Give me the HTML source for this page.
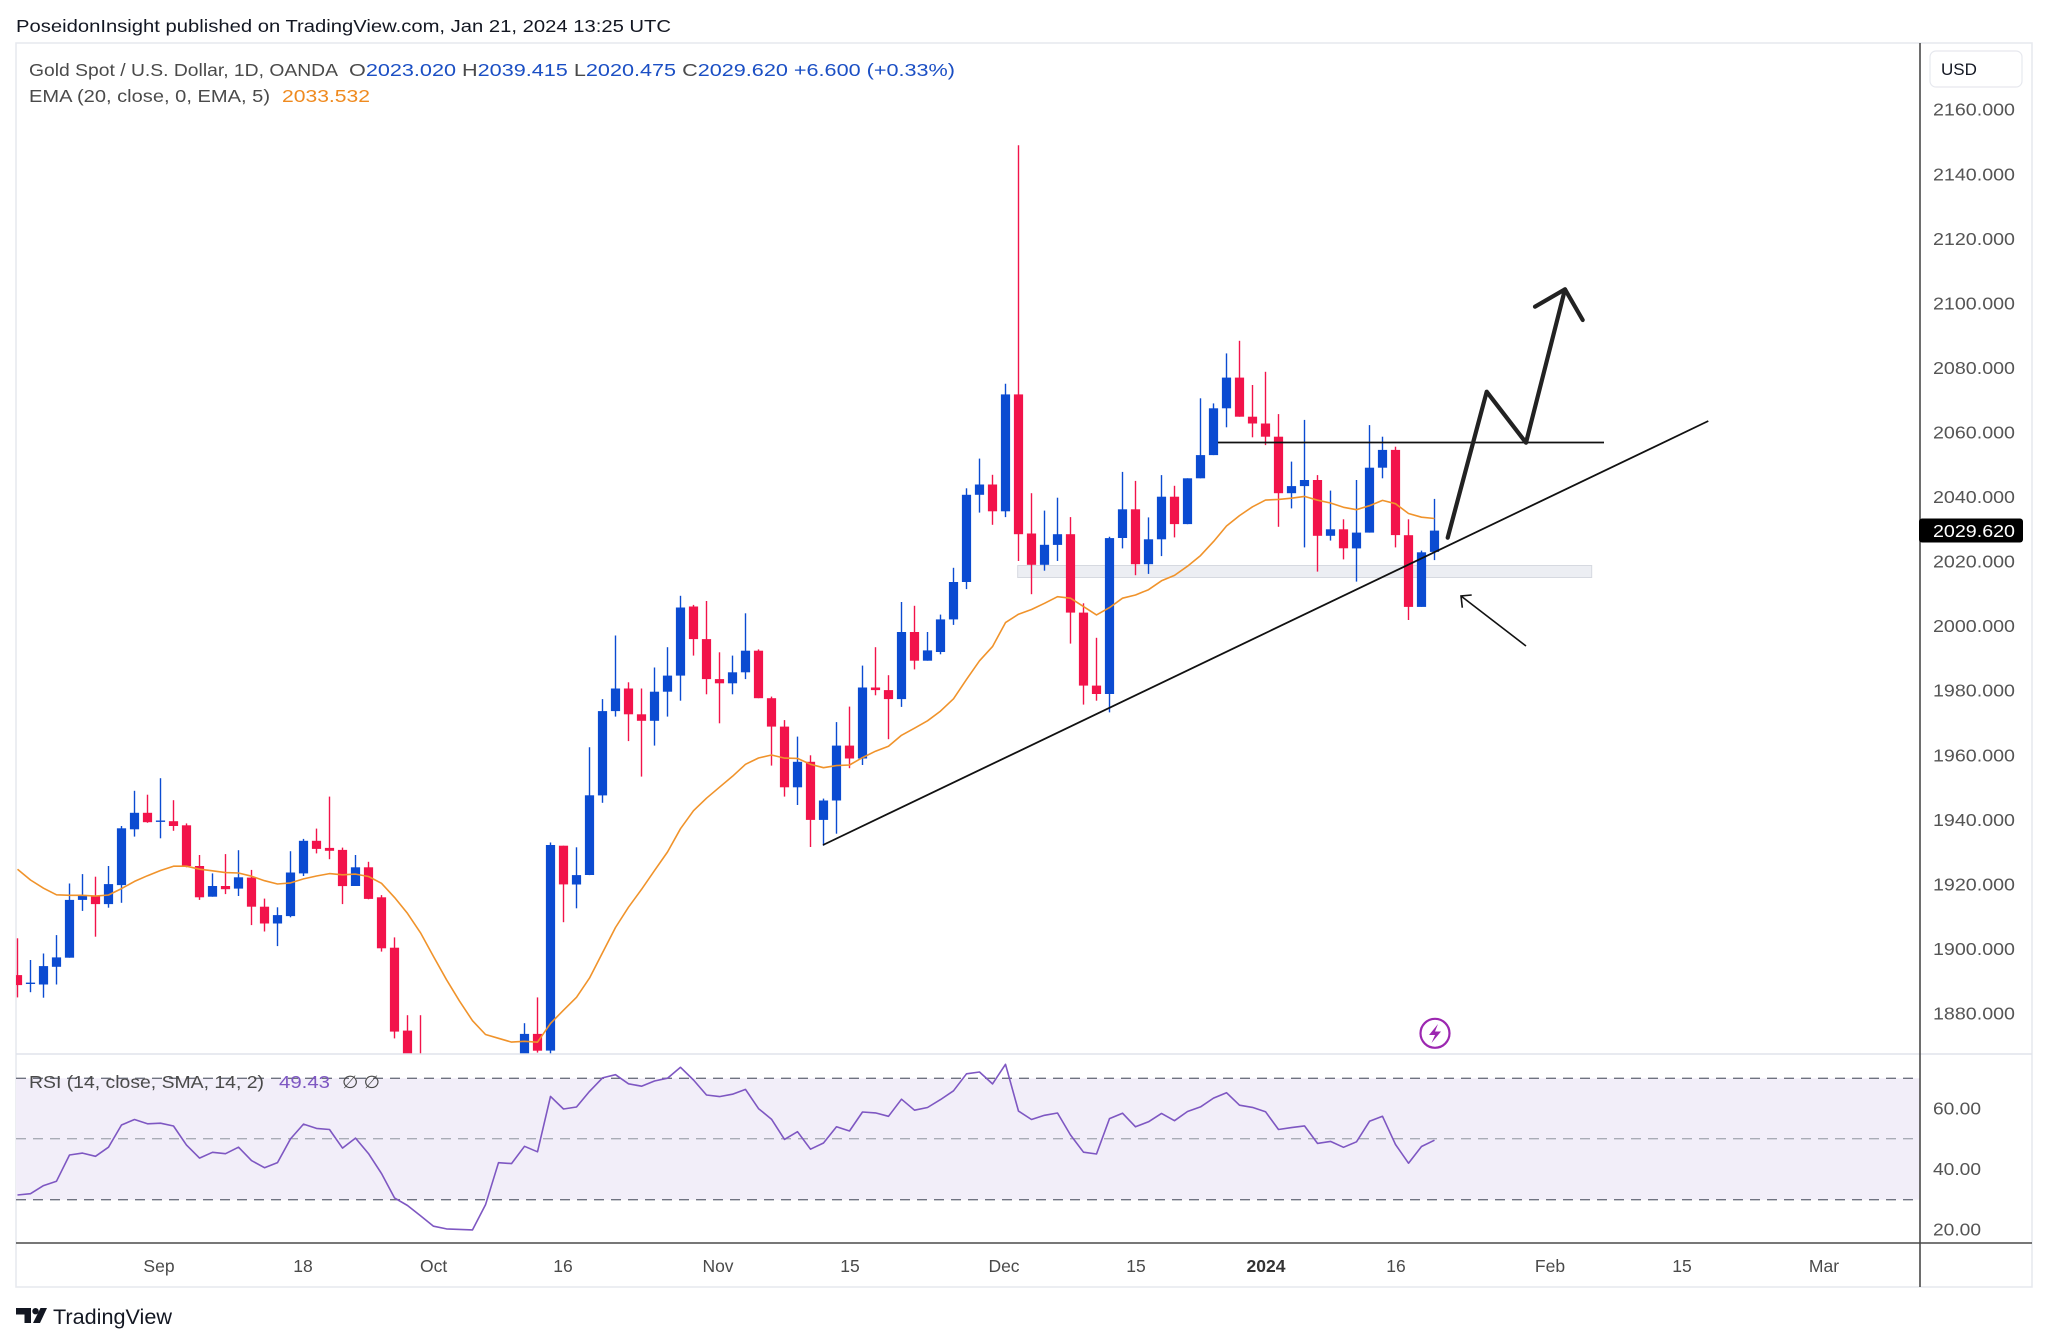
<!DOCTYPE html>
<html><head><meta charset="utf-8">
<style>
html,body{margin:0;padding:0;background:#fff;}
svg{display:block;}
text{font-family:"Liberation Sans",Arial,sans-serif;}
</style></head>
<body>
<svg id="s" xmlns="http://www.w3.org/2000/svg" width="2048" height="1344" viewBox="0 0 2048 1344">
<defs>
<clipPath id="cm"><rect x="16" y="43" width="1904" height="1011"/></clipPath>
<clipPath id="cr"><rect x="16" y="1054" width="1904" height="189"/></clipPath>
</defs>
<rect x="0" y="0" width="2048" height="1344" fill="#fff"/>
<text x="16" y="32" font-size="17.5" fill="#131722" textLength="655" lengthAdjust="spacingAndGlyphs">PoseidonInsight published on TradingView.com, Jan 21, 2024 13:25 UTC</text>
<rect x="16" y="43" width="2016" height="1244" fill="none" stroke="#e6e8ee" stroke-width="1.5"/>

<!-- RSI background -->
<rect x="16" y="1078.3" width="1904" height="121.4" fill="#f2eef9"/>
<g stroke-width="1.4" stroke-dasharray="10,7">
<line x1="16" x2="1920" y1="1078.3" y2="1078.3" stroke="#6f7280"/>
<line x1="16" x2="1920" y1="1138.7" y2="1138.7" stroke="#a9acb6"/>
<line x1="16" x2="1920" y1="1199.7" y2="1199.7" stroke="#6f7280"/>
</g>

<!-- main pane content -->
<g clip-path="url(#cm)">
<rect x="1017.7" y="565.5" width="574" height="12" fill="#eceef3" stroke="#d6d9e0" stroke-width="1"/>
<g id="candles"></g>
<polyline id="ema" fill="none" stroke="#f0932b" stroke-width="1.6" stroke-linejoin="round"/>
<line x1="823" y1="845" x2="1708.3" y2="421" stroke="#111" stroke-width="1.8"/>
<line x1="1218" y1="442.5" x2="1604" y2="442.5" stroke="#111" stroke-width="1.8"/>
<polyline points="1447.7,537.7 1486.7,391.7 1526,442.7 1565,289.3" fill="none" stroke="#222" stroke-width="4.2" stroke-linecap="round" stroke-linejoin="round"/>
<polyline points="1535,306.7 1565,289.3 1582.7,320" fill="none" stroke="#222" stroke-width="4.2" stroke-linecap="round" stroke-linejoin="round"/>
<line x1="1526" y1="646" x2="1461" y2="596" stroke="#111" stroke-width="1.6"/>
<polyline points="1471.7,595 1461,596 1462.3,607.7" fill="none" stroke="#111" stroke-width="1.6"/>
<circle cx="1435" cy="1033.3" r="14.5" fill="#fff" stroke="#9c27b0" stroke-width="2.2"/>
<path d="M1438 1024 L1429 1035 L1435 1035 L1431.5 1043 L1441 1031.5 L1435 1031.5 Z" fill="#9c27b0"/>
</g>

<!-- RSI line -->
<g clip-path="url(#cr)">
<polyline id="rsi" fill="none" stroke="#7e57c2" stroke-width="1.6" stroke-linejoin="round"/>
</g>

<!-- separators / axes -->
<line x1="16" x2="2032" y1="1054" y2="1054" stroke="#e0e3eb" stroke-width="1.5"/>
<line x1="16" x2="2032" y1="1243" y2="1243" stroke="#4a4a4a" stroke-width="1.6"/>
<line x1="1920" x2="1920" y1="43" y2="1287" stroke="#4a4a4a" stroke-width="1.6"/>

<!-- legend -->
<text x="29" y="76" font-size="17.5" fill="#4a4a4a" textLength="309" lengthAdjust="spacingAndGlyphs">Gold Spot / U.S. Dollar, 1D, OANDA</text>
<text x="349" y="76" font-size="17.5" textLength="606" lengthAdjust="spacingAndGlyphs"><tspan fill="#4a4a4a">O</tspan><tspan fill="#1b4fc4">2023.020</tspan><tspan fill="#4a4a4a">  H</tspan><tspan fill="#1b4fc4">2039.415</tspan><tspan fill="#4a4a4a">  L</tspan><tspan fill="#1b4fc4">2020.475</tspan><tspan fill="#4a4a4a">  C</tspan><tspan fill="#1b4fc4">2029.620  +6.600 (+0.33%)</tspan></text>
<text x="29" y="102" font-size="17.5" fill="#4a4a4a" textLength="241" lengthAdjust="spacingAndGlyphs">EMA (20, close, 0, EMA, 5)</text>
<text x="282" y="102" font-size="17.5" fill="#ef8a1f" textLength="88" lengthAdjust="spacingAndGlyphs">2033.532</text>

<text x="29" y="1088" font-size="17.5" fill="#4a4a4a" textLength="235" lengthAdjust="spacingAndGlyphs">RSI (14, close, SMA, 14, 2)</text>
<text x="279" y="1088" font-size="17.5" fill="#7e57c2" textLength="51" lengthAdjust="spacingAndGlyphs">49.43</text>
<text x="342" y="1088" font-size="17.5" fill="#4a4a4a" textLength="38" lengthAdjust="spacingAndGlyphs">∅ ∅</text>

<!-- USD box -->
<rect x="1930" y="51" width="92" height="36" rx="6" fill="#fff" stroke="#e6e8ee" stroke-width="1.2"/>
<text x="1941" y="75" font-size="17" fill="#131722">USD</text>

<!-- price axis labels -->
<g id="pax" font-size="17.5" fill="#555"></g>
<rect x="1919" y="518.5" width="104" height="24" rx="3" fill="#000"/>
<text x="1933" y="537" font-size="17.5" fill="#fff" textLength="82" lengthAdjust="spacingAndGlyphs">2029.620</text>
<g font-size="17.5" fill="#555">
<text x="1933" y="1114.5" textLength="48" lengthAdjust="spacingAndGlyphs">60.00</text>
<text x="1933" y="1175" textLength="48" lengthAdjust="spacingAndGlyphs">40.00</text>
<text x="1933" y="1235.3" textLength="48" lengthAdjust="spacingAndGlyphs">20.00</text>
</g>

<!-- time axis -->
<g font-size="17.5" fill="#4a4a4a" text-anchor="middle">
<text x="159" y="1272">Sep</text>
<text x="303" y="1272">18</text>
<text x="433.6" y="1272">Oct</text>
<text x="563" y="1272">16</text>
<text x="718" y="1272">Nov</text>
<text x="850" y="1272">15</text>
<text x="1004" y="1272">Dec</text>
<text x="1136" y="1272">15</text>
<text x="1266" y="1272" font-weight="bold" fill="#333">2024</text>
<text x="1396" y="1272">16</text>
<text x="1550" y="1272">Feb</text>
<text x="1682" y="1272">15</text>
<text x="1824" y="1272">Mar</text>
</g>

<!-- TradingView logo -->
<g fill="#131722">
<path d="M16 1308 H31 V1323 H24.5 V1314.5 H16 Z"/>
<circle cx="35.5" cy="1311.2" r="3.2"/>
<path d="M40.5 1308 H47 L40 1323 H33 Z"/>
</g>
<text x="53" y="1324" font-size="21.5" fill="#131722" textLength="119" lengthAdjust="spacingAndGlyphs">TradingView</text>
</svg>

<script>
(function(){
var D=[
[1891.9,1903.3,1885.0,1888.8],[1889.3,1896.6,1886.6,1889.6],[1889.0,1898.6,1884.9,1894.7],[1894.5,1904.3,1889.0,1897.4],
[1897.3,1920.3,1897.3,1915.2],[1915.2,1923.2,1911.8,1916.6],[1916.5,1922.4,1903.8,1913.9],[1913.9,1925.7,1912.8,1920.1],
[1919.8,1938.1,1914.3,1937.4],[1937.1,1949.0,1934.8,1942.2],[1942.2,1947.8,1939.1,1939.3],[1939.6,1952.9,1934.3,1939.8],
[1939.6,1946.1,1936.6,1938.1],[1938.3,1938.9,1925.3,1925.7],[1925.7,1929.1,1915.2,1916.0],[1916.2,1923.4,1916.2,1919.5],
[1919.5,1929.4,1917.0,1918.5],[1918.7,1930.6,1916.4,1922.2],[1922.1,1924.5,1907.4,1913.1],[1913.1,1915.6,1905.4,1907.9],
[1907.9,1912.9,1900.9,1910.5],[1910.2,1930.3,1909.8,1923.7],[1923.4,1934.1,1922.6,1933.5],[1933.5,1937.3,1929.6,1931.0],
[1931.3,1947.2,1927.8,1930.4],[1930.7,1931.4,1913.9,1919.5],[1919.5,1929.1,1919.5,1925.3],[1925.3,1927.0,1915.4,1915.5],
[1916.0,1916.7,1899.2,1900.2],[1900.4,1903.6,1872.3,1874.4],[1874.7,1879.5,1857,1864],[1864,1879.5,1846,1848],
[1848,1849,1827,1828],[1828,1835,1815,1822],[1822,1829,1816,1821],[1821,1830,1817,1820],
[1820,1834,1810,1833],[1833,1864,1830,1861],[1861,1865,1853,1860],[1860,1877.0,1858,1873.7],
[1873.7,1885.0,1867.9,1868.5],[1868.5,1933.0,1867.5,1932.2],[1932.0,1932.0,1908.3,1920.0],[1920.0,1931.5,1912.6,1922.9],
[1922.9,1962.5,1922.9,1947.6],[1947.6,1977.4,1945.3,1973.7],[1973.7,1997.1,1972.0,1980.7],[1980.7,1982.6,1964.4,1972.7],
[1972.7,1980.7,1953.4,1970.7],[1970.7,1987.2,1963.0,1979.7],[1979.7,1993.5,1972.0,1984.7],[1984.7,2009.4,1976.9,2005.8],
[2006.1,2006.6,1990.9,1996.0],[1996.0,2007.8,1978.9,1983.6],[1983.6,1991.9,1969.9,1982.3],[1982.3,1990.9,1978.9,1985.7],
[1985.7,2004.0,1983.6,1992.4],[1992.4,1992.8,1977.7,1977.7],[1977.7,1978.2,1956.8,1968.9],[1968.9,1970.9,1947.2,1950.1],
[1950.1,1965.8,1944.6,1958.0],[1958.0,1960.0,1931.6,1940.0],[1940.0,1946.6,1932.0,1946.0],[1946.0,1970.3,1935.7,1963.0],
[1963.0,1975.1,1956.0,1959.0],[1959.0,1987.8,1957.0,1981.0],[1981.0,1993.5,1978.6,1980.2],[1980.2,1984.8,1965.0,1977.4],
[1977.4,2007.5,1975.0,1998.2],[1998.2,2006.3,1986.6,1989.3],[1989.3,1998.2,1989.3,1992.5],[1992.0,2003.6,1991.3,2002.1],
[2002.1,2018.1,2000.4,2013.7],[2013.7,2042.7,2011.5,2040.7],[2040.7,2051.9,2035.2,2043.9],[2043.9,2046.9,2031.4,2035.6],
[2035.6,2075.1,2033.8,2071.8],[2071.8,2149.0,2020.2,2028.5],[2028.7,2041.2,2009.9,2019.0],[2019.0,2035.8,2017.2,2025.2],
[2025.2,2039.8,2020.2,2028.5],[2028.5,2033.8,1994.6,2004.2],[2004.2,2007.1,1975.7,1981.6],[1981.6,1996.4,1976.9,1979.0],
[1979.0,2027.7,1973.3,2027.3],[2027.3,2047.8,2024.1,2036.2],[2036.2,2045.0,2015.8,2019.2],[2019.2,2033.7,2016.2,2026.9],
[2026.9,2046.8,2021.7,2040.1],[2040.1,2043.5,2027.5,2031.6],[2031.6,2045.8,2031.6,2045.8],[2045.8,2070.6,2045.8,2053.0],
[2053.0,2069.0,2053.0,2067.5],[2067.5,2084.5,2061.6,2077.0],[2077.0,2088.4,2064.9,2064.9],[2064.9,2074.7,2058.5,2062.8],
[2062.8,2078.8,2056.1,2058.7],[2058.7,2065.7,2030.8,2041.2],[2041.2,2051.0,2036.5,2043.4],[2043.4,2063.9,2024.4,2045.3],
[2045.3,2046.8,2016.9,2028.0],[2028.0,2042.0,2026.5,2030.0],[2030.0,2033.1,2020.7,2024.1],[2024.1,2045.3,2013.8,2029.0],
[2029.0,2062.3,2029.0,2049.1],[2049.1,2058.7,2045.8,2054.6],[2054.6,2055.6,2024.4,2028.2],[2028.2,2033.1,2001.9,2006.0],
[2006.0,2023.4,2006.0,2022.9],[2023.02,2039.415,2020.475,2029.62]
];
function Y(p){return 109.7+(2160-p)*3.228;}
function X(i){return 17.5+13*i;}
function R(v){return 1138.7-(v-50)*3.02;}
var h='';
for(var i=0;i<D.length;i++){
  var o=D[i][0],hi=D[i][1],lo=D[i][2],c=D[i][3];
  var col=c>=o?'#0b4bd1':'#f2134a';
  var x=X(i);
  h+='<line x1="'+x+'" x2="'+x+'" y1="'+Y(hi).toFixed(1)+'" y2="'+Y(lo).toFixed(1)+'" stroke="'+col+'" stroke-width="1.4"/>';
  var t=Y(Math.max(o,c)),b=Y(Math.min(o,c));
  h+='<rect x="'+(x-4.6).toFixed(1)+'" y="'+t.toFixed(1)+'" width="9.2" height="'+Math.max(b-t,1.4).toFixed(1)+'" fill="'+col+'"/>';
}
document.getElementById('candles').innerHTML=h;
var e=1928.5,pe=[];
for(var i=0;i<D.length;i++){e=e+(D[i][3]-e)*2/21;pe.push(X(i).toFixed(1)+','+Y(e).toFixed(1));}
document.getElementById('ema').setAttribute('points',pe.join(' '));
var ag=3.2,al=7.0,pr=[];
for(var i=0;i<D.length;i++){
  if(i>0){var ch=D[i][3]-D[i-1][3];ag=(ag*13+Math.max(ch,0))/14;al=(al*13+Math.max(-ch,0))/14;}
  var r=100-100/(1+ag/al);
  pr.push(X(i).toFixed(1)+','+R(r).toFixed(1));
}
document.getElementById('rsi').setAttribute('points',pr.join(' '));
var ph='';
for(var p=1880;p<=2160;p+=20){
  ph+='<text x="1933" y="'+(Y(p)+6).toFixed(1)+'" textLength="82" lengthAdjust="spacingAndGlyphs">'+p+'.000</text>';
}
document.getElementById('pax').innerHTML=ph;
})();
</script>
</body></html>
